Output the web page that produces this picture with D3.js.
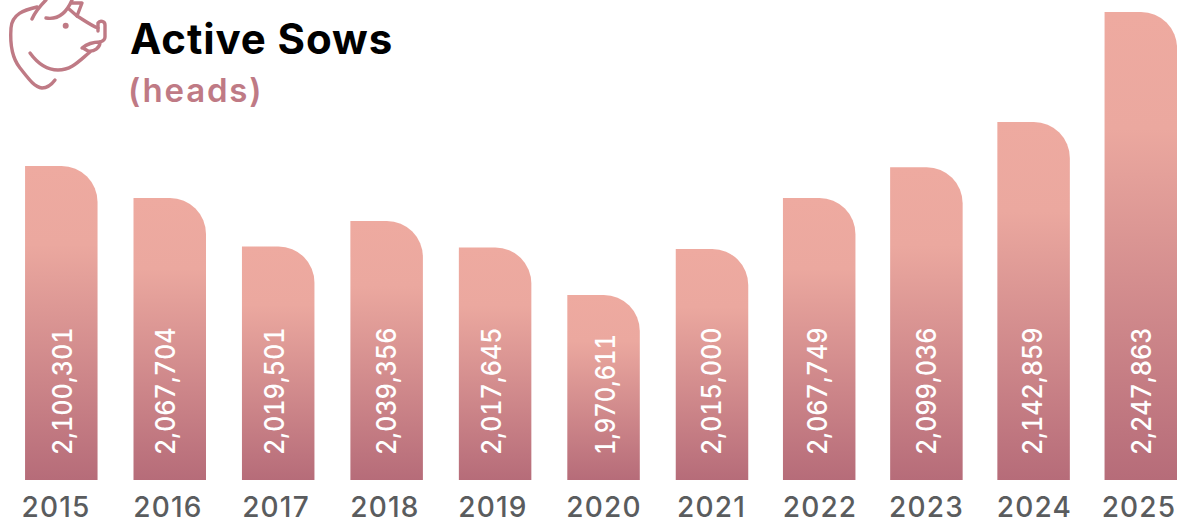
<!DOCTYPE html>
<html><head><meta charset="utf-8">
<script src="https://cdn.jsdelivr.net/npm/d3@7"></script>
<style>html,body{margin:0;background:#fff}svg{display:block}text{font-family:Inter,sans-serif}</style>
</head><body><svg id="c" width="1177" height="524"></svg>
<script>
const years=[2015,2016,2017,2018,2019,2020,2021,2022,2023,2024,2025];
const sows=[2100301,2067704,2019501,2039356,2017645,1970611,2015000,2067749,2099036,2142859,2247863];
const titleText="Active Sows", unitText="(heads)";
const W=1177,H=524,barW=72.5,baseY=480;
const svg=d3.select("#c");
const x=d3.scaleLinear().domain([2015,2021,2025]).range([61.3,712,1140.8]);
const xYear=d3.scaleLinear().domain(years).range([56,168,276,385,493,604,711.5,820,926.5,1034.5,1139]);
const xValue=d3.scaleLinear().domain(years).range([62.7,165.7,274,386.7,491.7,605,711,817,926,1032.7,1141]);
const y=d3.scaleLinear().domain([1970611,2015000,2019501,2039356,2067704,2100301,2142859,2247863]).range([295,249,246.5,221,198,166,122,12]);
const defs=svg.append("defs");
const g=defs.append("linearGradient").attr("id","bar").attr("x1",0).attr("x2",0).attr("y1",0).attr("y2",1);
[[0,"#eeaaa0"],[.25,"#eba89f"],[1,"#b66c79"]].forEach(s=>g.append("stop").attr("offset",s[0]).attr("stop-color",s[1]));
const r=36;
const bar=svg.selectAll("g.b").data(years.map((yr,i)=>({yr,v:sows[i]}))).join("g").attr("class","b");
bar.append("path").attr("fill","url(#bar)").attr("d",d=>{
  const l=x(d.yr)-barW/2,t=y(d.v);
  return `M${l},${baseY}V${t}H${l+barW-r}A${r},${r} 0 0 1 ${l+barW},${t+r}V${baseY}Z`;
});
bar.append("text").text(d=>d3.format(",")(d.v))
  .attr("transform",d=>`translate(${xValue(d.yr)},455) rotate(-90)`)
  .attr("dy","0.36em").attr("font-size",27).attr("font-weight",500).attr("fill","#fff")
  .style("font-variant-numeric","tabular-nums")
  .attr("textLength",d=>d.v<2000000?121:127.5).attr("lengthAdjust","spacingAndGlyphs");
bar.append("text").text(d=>d.yr).attr("x",d=>xYear(d.yr)).attr("y",517).attr("text-anchor","middle")
  .attr("font-size",28).attr("font-weight",500).attr("fill","#5a5c5e").attr("letter-spacing",1.2);
svg.append("text").text(titleText).attr("x",130).attr("y",54).attr("font-size",42).attr("font-weight",700).attr("fill","#000").attr("letter-spacing",.9);
svg.append("text").text(unitText).attr("x",128).attr("y",102).attr("font-size",33).attr("font-weight",600).attr("fill","#bf7a85").attr("letter-spacing",1.8);
const pig=svg.append("g").attr("fill","none").attr("stroke","#bf7a85").attr("stroke-width",3.4).attr("stroke-linecap","round").attr("stroke-linejoin","round");
["M37,7C24,10 12,14 11,28C10,42 12,58 20,68C28,78 34,87 42,88C48,88 52,84 55,80",
 "M32,19C35,12 40,6 46,0",
 "M46,18C58,20 66,14 72,0",
 "M69,9L77,16L82,3L72,3",
 "M77,16C84,20 90,25 98,28",
 "M98,31V23C100,20 105,21 105,25V37C105,40 103,41 100,42",
 "M82,48C87,44 94,42 100,42C100,48 94,52 88,51L83,48",
 "M30,53C38,64 48,70 58,70C72,70 80,60 90,52"
].forEach(p=>pig.append("path").attr("d",p));
svg.append("circle").attr("cx",65.7).attr("cy",25.7).attr("r",3).attr("fill","#bf7a85");
</script></body></html>
